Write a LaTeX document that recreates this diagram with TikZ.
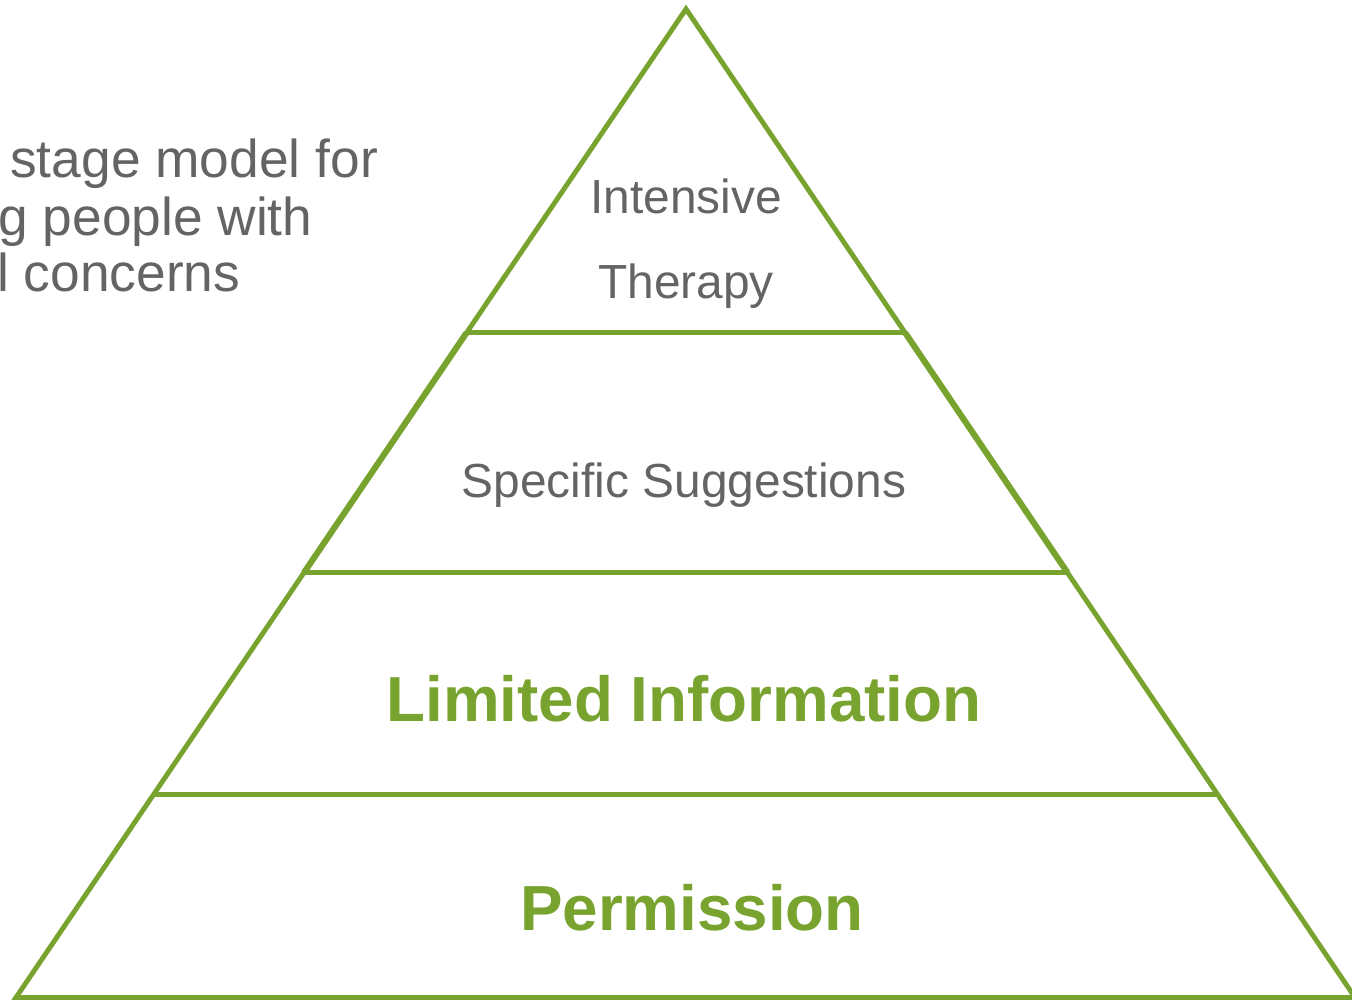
\documentclass[tikz,border=0pt]{standalone}
\usepackage{fontspec}
\setmainfont{Liberation Sans}
\usetikzlibrary{calc}
\definecolor{leaf}{RGB}{120,163,47}
\definecolor{ink}{RGB}{99,100,102}
\begin{document}
\begin{tikzpicture}[x=0.75pt,y=-0.75pt,
  edge/.style={draw=leaf,line width=3.7pt,line join=miter,line cap=butt},
  tier/.style={text=ink,font=\fontsize{35.9}{43}\selectfont,inner sep=0pt,anchor=base},
  strong/.style={text=leaf,font=\fontsize{47.8}{57}\selectfont\bfseries,inner sep=0pt,anchor=base},
  side/.style={text=ink,font=\fontsize{40}{48}\selectfont,inner sep=0pt,anchor=base west}]
\useasboundingbox (0,0) rectangle (1352,1002);
\clip (0,0) rectangle (1352,1002);

% outline of the pyramid
\coordinate (apex) at (686,9);
\coordinate (bl) at (16,997.5);
\coordinate (br) at (1355,997.5);

% tier boundaries on both sides
\coordinate (l1) at ($(apex)!0.3276!(bl)$);
\coordinate (r1) at ($(apex)!0.3276!(br)$);
\coordinate (l2) at ($(apex)!0.5703!(bl)$);
\coordinate (r2) at ($(apex)!0.5703!(br)$);
\coordinate (l3) at ($(apex)!0.7948!(bl)$);
\coordinate (r3) at ($(apex)!0.7948!(br)$);

\draw[edge] (apex) -- (bl) -- (br) -- cycle;
% the second tier is outlined a little heavier
\draw[edge,line width=4.6pt] (l1) -- (l2);
\draw[edge,line width=4.6pt] (r1) -- (r2);
\draw[edge] (l1) -- (r1);
\draw[edge] (l2) -- (r2);
\draw[edge] (l3) -- (r3);

% tier labels
\node[tier] (it1) at (686,213) {Intensive};
\node[tier] (it2) at (686,298) {Therapy};
\node[tier] (ss) at (684,497) {Specific Suggestions};
\node[strong] (li) at (684,721) {Limited Information};
\node[strong] (pm) at (692,930) {Permission};

% caption at the left
\node[side] (c1) at (10,178) {stage model for};
\node[side] (c2) at (-2,235) {g people with};
\node[side] (c3) at (-3,291) {l concerns};
\end{tikzpicture}
\end{document}
